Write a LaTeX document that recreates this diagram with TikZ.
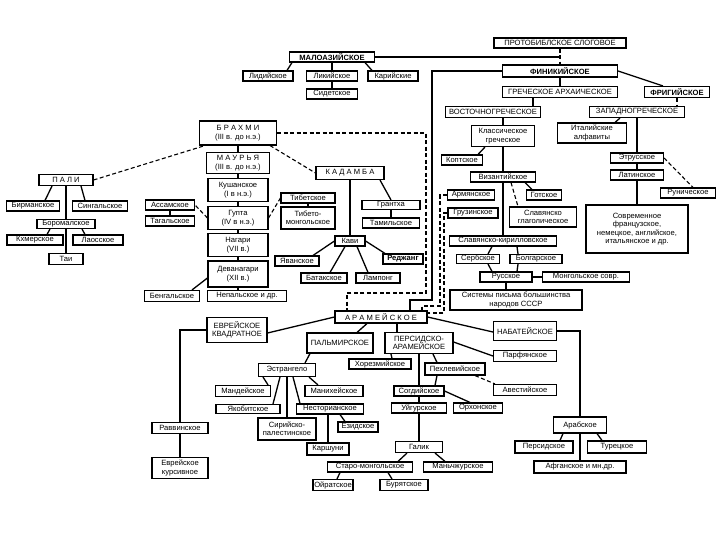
\documentclass[tikz,border=0pt]{standalone}
\usepackage{fontspec}
\setmainfont{Liberation Sans}
\usetikzlibrary{calc}

\begin{document}
\begin{tikzpicture}[x=1pt, y=-1pt,
    every node/.style={font=\fontsize{7.6}{8.4}\selectfont},
    blk/.style={draw, line width=1.1pt, fill=white, inner sep=0.6pt, minimum height=10pt, align=center},
    bld/.style={font=\fontsize{7.6}{8.4}\selectfont\bfseries},
    ln/.style={line width=1.3pt},
    dsh/.style={line width=1.1pt, dash pattern=on 4pt off 2.5pt}
]
\useasboundingbox (0,0) rectangle (720,540);

% Phoenician and Greek
\node[blk, minimum width=132] (proto) at (560,43) {ПРОТОБИБЛСКОЕ СЛОГОВОЕ};
\node[blk, bld, minimum width=115, minimum height=12] (phoen) at (560,71) {ФИНИКИЙСКОЕ};
\node[blk, minimum width=115, minimum height=11] (garch) at (560,92) {ГРЕЧЕСКОЕ АРХАИЧЕСКОЕ};
\node[blk, bld, minimum width=65, minimum height=11] (phryg) at (677,92) {ФРИГИЙСКОЕ};
\node[blk, minimum width=95, minimum height=11] (wgreek) at (637,112) {ЗАПАДНОГРЕЧЕСКОЕ};
\node[blk, minimum width=95, minimum height=11] (egreek) at (493,112) {ВОСТОЧНОГРЕЧЕСКОЕ};
\node[blk, minimum width=69, minimum height=20] (ital) at (592,133) {Италийские\\алфавиты};
\node[blk, minimum width=53] (etr) at (637,158) {Этрусское};
\node[blk, minimum width=53] (lat) at (637,175) {Латинское};
\node[blk, minimum width=55] (run) at (688,193) {Руническое};
\node[blk, minimum width=102, minimum height=48] (modern) at (637,229) {Современное\\французское,\\немецкое, английское,\\итальянское и др.};
\node[blk, minimum width=63, minimum height=21] (klass) at (503,136) {Классическое\\греческое};
\node[blk, minimum width=41] (copt) at (462,160) {Коптское};
\node[blk, minimum width=65] (byz) at (503,177) {Византийское};
\node[blk, minimum width=47] (arm) at (471,195) {Армянское};
\node[blk, minimum width=35] (goth) at (544,195) {Готское};
\node[blk, minimum width=50] (geo) at (473,213) {Грузинское};
\node[blk, minimum width=67, minimum height=20] (glag) at (543,217) {Славянско\\глаголическое};
\node[blk, minimum width=107] (cyr) at (503,241) {Славянско-кирилловское};
\node[blk, minimum width=43, minimum height=9] (serb) at (478,259) {Сербское};
\node[blk, minimum width=52, minimum height=9] (bulg) at (536,259) {Болгарское};
\node[blk, minimum width=52] (rus) at (506,277) {Русское};
\node[blk, minimum width=87] (mong) at (586,277) {Монгольское совр.};
\node[blk, minimum width=132, minimum height=20] (ussr) at (516,300) {Системы письма большинства\\народов СССР};

% Asia Minor
\node[blk, bld, minimum width=85] (malo) at (332,57) {МАЛОАЗИЙСКОЕ};
\node[blk, minimum width=50] (lyd) at (268,76) {Лидийское};
\node[blk, minimum width=51] (lyc) at (332,76) {Ликийское};
\node[blk, minimum width=50] (car) at (393,76) {Карийские};
\node[blk, minimum width=51] (sid) at (332,94) {Сидетское};

% Brahmi branch
\node[blk, minimum width=77, minimum height=24] (brahmi) at (238,133) {Б\ Р\ А\ Х\ М\ И\\(III в. до н.э.)};
\node[blk, minimum width=63, minimum height=21] (maurya) at (238,163) {М\ А\ У\ Р\ Ь\ Я\\(III в. до н.э.)};
\node[blk, minimum width=60, minimum height=23] (kush) at (238,190) {Кушанское\\(I в н.э.)};
\node[blk, minimum width=60, minimum height=23] (gupta) at (238,218) {Гупта\\(IV в н.э.)};
\node[blk, minimum width=60, minimum height=23] (nagari) at (238,245) {Нагари\\(VII в.)};
\node[blk, minimum width=60, minimum height=26] (deva) at (238,274) {Деванагари\\(XII в.)};
\node[blk, minimum width=55, minimum height=11] (beng) at (172,296) {Бенгальское};
\node[blk, minimum width=79, minimum height=11] (nepal) at (247,296) {Непальское и др.};
\node[blk, minimum width=49] (assam) at (170,205) {Ассамское};
\node[blk, minimum width=49] (tagal) at (170,221) {Тагальское};
\node[blk, minimum width=54] (tib) at (308,198) {Тибетское};
\node[blk, minimum width=54, minimum height=22] (tibmong) at (308,218) {Тибето-\\монгольское};
\node[blk, minimum width=68, minimum height=13] (kadamba) at (350,173) {К\ А\ Д\ А\ М\ Б\ А};
\node[blk, minimum width=58, minimum height=9] (grantha) at (391,205) {Грантха};
\node[blk, minimum width=57] (tamil) at (391,223) {Тамильское};
\node[blk, minimum width=30] (kavi) at (350,241) {Кави};
\node[blk, bld, minimum width=40] (rejang) at (403,259) {Реджанг};
\node[blk, minimum width=44] (lamp) at (378,278) {Лампонг};
\node[blk, minimum width=46] (batak) at (324,278) {Батакское};
\node[blk, minimum width=44] (java) at (297,261) {Яванское};
\node[blk, minimum width=54, minimum height=11] (pali) at (66,180) {П\ А\ Л\ И};
\node[blk, minimum width=53] (burm) at (33,206) {Бирманское};
\node[blk, minimum width=55] (sing) at (100,206) {Сингальское};
\node[blk, minimum width=58, minimum height=9] (borom) at (66,224) {Боромалское};
\node[blk, minimum width=56] (khmer) at (35,240) {Кхмерское};
\node[blk, minimum width=50] (lao) at (98,240) {Лаосское};
\node[blk, minimum width=34, minimum height=11] (thai) at (66,259) {Таи};

% Aramaic branch
\node[blk, minimum width=92, minimum height=12] (aram) at (381,317) {А\ Р\ А\ М\ Е\ Й\ С\ К\ О\ Е};
\node[blk, minimum width=60, minimum height=25] (hebsq) at (237,330) {ЕВРЕЙСКОЕ\\КВАДРАТНОЕ};
\node[blk, minimum width=66, minimum height=20] (palm) at (340,343) {ПАЛЬМИРСКОЕ};
\node[blk, minimum width=68, minimum height=21] (pers) at (419,343) {ПЕРСИДСКО-\\АРАМЕЙСКОЕ};
\node[blk, minimum width=63, minimum height=19] (nab) at (525,331) {НАБАТЕЙСКОЕ};
\node[blk, minimum width=63, minimum height=11] (parf) at (525,356) {Парфянское};
\node[blk, minimum width=62] (khor) at (380,364) {Хорезмийское};
\node[blk, minimum width=60, minimum height=12] (pehl) at (455,369) {Пехлевийское};
\node[blk, minimum width=63, minimum height=11] (avest) at (525,390) {Авестийское};
\node[blk, minimum width=50] (sogd) at (419,391) {Согдийское};
\node[blk, minimum width=55] (uigh) at (419,408) {Уйгурское};
\node[blk, minimum width=49] (orkh) at (478,408) {Орхонское};
\node[blk, minimum width=47, minimum height=11] (galik) at (419,447) {Галик};
\node[blk, minimum width=85] (starm) at (370,467) {Старо-монгольское};
\node[blk, minimum width=69] (manch) at (458,467) {Маньчжурское};
\node[blk, minimum width=40, minimum height=11] (oirat) at (333,485) {Ойратское};
\node[blk, minimum width=48, minimum height=11] (buryat) at (404,485) {Бурятское};
\node[blk, minimum width=57, minimum height=13] (estr) at (287,370) {Эстрангело};
\node[blk, minimum width=55, minimum height=11] (mand) at (243,391) {Мандейское};
\node[blk, minimum width=64, minimum height=9] (yakob) at (248,409) {Якобитское};
\node[blk, minimum width=58, minimum height=11] (manich) at (334,391) {Манихейское};
\node[blk, minimum width=67] (nestor) at (330,409) {Несторианское};
\node[blk, minimum width=58, minimum height=22] (syrpal) at (287,429) {Сирийско-\\палестинское};
\node[blk, minimum width=40] (yezid) at (358,427) {Езидское};
\node[blk, minimum width=42, minimum height=12] (karsh) at (328,449) {Каршуни};
\node[blk, minimum width=56, minimum height=11] (rabb) at (180,428) {Раввинское};
\node[blk, minimum width=56, minimum height=21] (hebcur) at (180,468) {Еврейское\\курсивное};
\node[blk, minimum width=53, minimum height=16] (arab) at (580,425) {Арабское};
\node[blk, minimum width=58, minimum height=12] (persn) at (544,447) {Персидское};
\node[blk, minimum width=59, minimum height=12] (turk) at (617,447) {Турецкое};
\node[blk, minimum width=92, minimum height=12] (afgh) at (580,467) {Афганское и мн.др.};

% connectors, top
\draw[dsh] (proto) -- (phoen);
\draw[ln] (malo.east) -- (malo.east -| phoen.north);
\draw[ln] (phoen.west) -| (432,300) -| ([xshift=29pt]aram.north);
\draw[ln] (phoen) -- (garch);
\draw[ln] (phoen.east) -- ([xshift=-14pt]phryg.north);
\draw[dsh] (phryg.south) -- (phryg.south |- wgreek.north);
\draw[ln] ([xshift=-27pt]garch.south) -- ([xshift=-27pt]garch.south |- egreek.north);
\draw[ln] ([xshift=-17pt]wgreek.south) -- ([xshift=23pt]ital.north);
\draw[ln] (wgreek) -- (etr);
\draw[ln] (etr) -- (lat);
\draw[ln] (lat) -- (modern);
\draw[dsh] (etr.east) -- ([xshift=5pt]run.north);
\draw[ln] (klass.north |- egreek.south) -- (klass.north);
\draw[ln] ([xshift=-18pt]klass.south) -- ([xshift=16pt]copt.north);
\draw[ln] (klass) -- (byz);
\draw[ln] (byz) -- (cyr);
\draw[ln] ([xshift=22pt]byz.south) -- ([xshift=-12pt]goth.north);
\draw[dsh] ([xshift=8pt]byz.south) -- ([xshift=-25pt]glag.north);
\draw[ln] ([xshift=-11pt]cyr.south) -- ([xshift=10pt]serb.north);
\draw[ln] ([xshift=14pt]cyr.south) -- ([xshift=-18pt]bulg.north);
\draw[ln] ([xshift=10pt]serb.south) -- ([xshift=-14pt]rus.north);
\draw[ln] ([xshift=-18pt]bulg.south) -- ([xshift=11pt]rus.north);
\draw[ln] (rus) -- (mong);
\draw[ln] (rus.south) -- (rus.south |- ussr.north);
\draw[dsh] (arm.west) -| (440,306) -- (422,306) -- ([xshift=41pt]aram.north);
\draw[dsh] (geo.west) -| (444,313) -- ([yshift=4pt]aram.east);

% Asia Minor
\draw[ln] ([xshift=-40pt]malo.south) -- ([xshift=19pt]lyd.north);
\draw[ln] (malo) -- (lyc);
\draw[ln] ([xshift=33pt]malo.south) -- ([xshift=-21pt]car.north);
\draw[ln] (lyc) -- (sid);

% Brahmi
\draw[ln] (brahmi) -- (maurya);
\draw[dsh] (pali.east) -- ([xshift=-33pt]brahmi.south);
\draw[dsh] ([xshift=32pt]brahmi.south) -- (kadamba.west);
\draw[dsh] (brahmi.east) -| (426,293) -| ([xshift=-34pt]aram.north);
\draw[ln] (maurya) -- (kush);
\draw[ln] (kush) -- (gupta);
\draw[ln] (gupta) -- (nagari);
\draw[ln] (nagari) -- (deva);
\draw[ln] ([yshift=-4pt]deva.west) -- ([xshift=20pt]beng.north);
\draw[ln] (deva.south) -- (deva.south |- nepal.north);
\draw[dsh] (gupta.west) -- (assam.east);
\draw[ln] (assam) -- (tagal);
\draw[dsh] (gupta.east) -- (tib.west);
\draw[ln] (tib) -- (tibmong);
\draw[ln] (kadamba) -- (kavi);
\draw[ln] ([xshift=30pt]kadamba.south) -- (grantha.north);
\draw[ln] (grantha) -- (tamil);
\draw[ln] (kavi.west) -- ([xshift=16pt]java.north);
\draw[ln] ([xshift=-5pt]kavi.south) -- ([xshift=6pt]batak.north);
\draw[ln] ([xshift=7pt]kavi.south) -- ([xshift=-10pt]lamp.north);
\draw[ln] (kavi.east) -- ([xshift=-18pt]rejang.north);
\draw[ln] ([xshift=-14pt]pali.south) -- ([xshift=12pt]burm.north);
\draw[ln] ([xshift=15pt]pali.south) -- ([xshift=-15pt]sing.north);
\draw[ln] (pali) -- (borom);
\draw[ln] (borom) -- (thai);
\draw[ln] ([xshift=-16pt]borom.south) -- ([xshift=12pt]khmer.north);
\draw[ln] ([xshift=16pt]borom.south) -- ([xshift=-13pt]lao.north);

% Aramaic
\draw[ln] (aram.west) -- ([yshift=-3pt]hebsq.east);
\draw[ln] (hebsq.west) -| (rabb.north);
\draw[ln] (rabb) -- (hebcur);
\draw[ln] ([xshift=-14pt]aram.south) -- ([xshift=17pt]palm.north);
\draw[ln] ([xshift=16pt]aram.south) -- ([xshift=-22pt]pers.north);
\draw[ln] (aram.east) -- ([yshift=-1pt]nab.west);
\draw[ln] (nab.east) -| (arab.north);
\draw[ln] (arab) -- (afgh);
\draw[ln] ([xshift=-17pt]arab.south) -- ([xshift=16pt]persn.north);
\draw[ln] ([xshift=17pt]arab.south) -- ([xshift=-15pt]turk.north);
\draw[ln] ([yshift=1pt]pers.east) -- (parf.west);
\draw[ln] ([xshift=14pt]pers.south) -- ([xshift=-18pt]pehl.north);
\draw[dsh] ([xshift=20pt]pehl.south) -- ([xshift=-30pt]avest.north);
\draw[ln] ([xshift=-28pt]pers.south) -- ([xshift=12pt]khor.north);
\draw[ln] (pers) -- (sogd);
\draw[ln] ([xshift=-18pt]pehl.south) -- ([xshift=16pt]sogd.north);
\draw[ln] (sogd) -- (uigh);
\draw[ln] (sogd.east) -- ([xshift=-8pt]orkh.north);
\draw[ln] (uigh) -- (galik);
\draw[ln] ([xshift=-12pt]galik.south) -- ([xshift=28pt]starm.north);
\draw[ln] ([xshift=16pt]galik.south) -- ([xshift=-13pt]manch.north);
\draw[ln] ([xshift=-30pt]starm.south) -- ([xshift=4pt]oirat.north);
\draw[ln] ([xshift=18pt]starm.south) -- ([xshift=-12pt]buryat.north);
\draw[ln] ([xshift=-30pt]palm.south) -- ([xshift=18pt]estr.north);
\draw[ln] ([xshift=-24pt]estr.south) -- ([xshift=-3pt]mand.north east);
\draw[ln] ([xshift=-7pt]estr.south) -- ([xshift=25pt]yakob.north);
\draw[ln] (estr) -- (syrpal);
\draw[ln] ([xshift=6pt]estr.south) -- ([xshift=-30pt]nestor.north);
\draw[ln] ([xshift=22pt]estr.south) -- ([xshift=-16pt]manich.north);
\draw[ln] ([xshift=10pt]nestor.south) -- ([xshift=-13pt]yezid.north);
\draw[ln] ([xshift=-2pt]nestor.south) -- (karsh.north);
\end{tikzpicture}
\end{document}
